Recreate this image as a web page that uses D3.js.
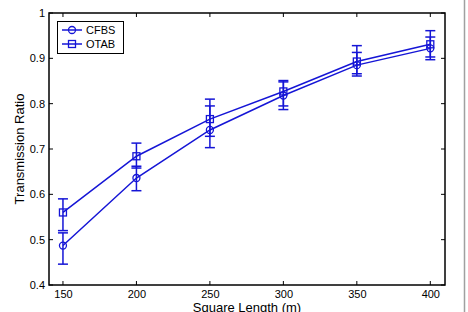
<!DOCTYPE html>
<html>
<head>
<meta charset="utf-8">
<script src="https://cdn.jsdelivr.net/npm/d3@7"></script>
<style>
body { margin: 0; background: #fff; }
svg { display: block; font-family: "Liberation Sans", Arial, sans-serif; }
</style>
</head>
<body>
<div id="chart"></div>
<script>
var squareLength = [150, 200, 250, 300, 350, 400];
var seriesNames = ["CFBS", "OTAB"];
var cfbsMean = [0.487, 0.636, 0.742, 0.818, 0.885, 0.922];
var cfbsLow  = [0.446, 0.608, 0.703, 0.787, 0.861, 0.897];
var cfbsHigh = [0.515, 0.662, 0.795, 0.848, 0.913, 0.947];
var otabMean = [0.560, 0.684, 0.766, 0.827, 0.893, 0.931];
var otabLow  = [0.520, 0.658, 0.728, 0.795, 0.866, 0.903];
var otabHigh = [0.590, 0.713, 0.810, 0.851, 0.928, 0.961];
var xTicks = [150, 200, 250, 300, 350, 400];
var yTicks = [0.4, 0.5, 0.6, 0.7, 0.8, 0.9, 1];

var width = 468, height = 312;
var plotL = 49, plotR = 445, plotT = 13, plotB = 285;
var blue = "#1515d6";

var svg = d3.select("#chart").append("svg")
    .attr("width", width)
    .attr("height", height);

var x = d3.scaleLinear().domain([140.5, 410]).range([plotL, plotR]);
var y = d3.scaleLinear().domain([0.4, 1]).range([plotB, plotT]);

// gray line at the right edge
svg.append("line")
    .attr("x1", 464.5).attr("x2", 464.5)
    .attr("y1", 0).attr("y2", height)
    .attr("stroke", "#a0a0a0").attr("stroke-width", 1.5);

// axes
svg.append("g").attr("transform", "translate(0," + plotB + ")")
    .call(d3.axisBottom(x).tickValues(xTicks).tickSize(0).tickPadding(5));
svg.append("g").attr("transform", "translate(" + plotL + ",0)")
    .call(d3.axisLeft(y).tickValues(yTicks).tickSize(0).tickPadding(4)
        .tickFormat(function(d) { return d === 1 ? "1" : d3.format(".1f")(d); }));
svg.selectAll(".domain").remove();
svg.selectAll(".tick text").attr("font-size", 11).attr("fill", "#000")
    .style("font-family", "Liberation Sans, Arial, sans-serif");

// inner tick marks (bottom and top, left and right)
xTicks.forEach(function(t) {
    svg.append("line").attr("x1", x(t)).attr("x2", x(t)).attr("y1", plotB).attr("y2", plotB - 4)
        .attr("stroke", "#000");
    svg.append("line").attr("x1", x(t)).attr("x2", x(t)).attr("y1", plotT).attr("y2", plotT + 4)
        .attr("stroke", "#000");
});
yTicks.forEach(function(t) {
    svg.append("line").attr("x1", plotL).attr("x2", plotL + 4).attr("y1", y(t)).attr("y2", y(t))
        .attr("stroke", "#000");
    svg.append("line").attr("x1", plotR).attr("x2", plotR - 4).attr("y1", y(t)).attr("y2", y(t))
        .attr("stroke", "#000");
});

// frame
svg.append("rect")
    .attr("x", plotL).attr("y", plotT)
    .attr("width", plotR - plotL).attr("height", plotB - plotT)
    .attr("fill", "none").attr("stroke", "#000").attr("stroke-width", 1.5);

// axis labels
svg.append("text")
    .attr("x", (plotL + plotR) / 2).attr("y", 312)
    .attr("text-anchor", "middle").attr("font-size", 13)
    .text("Square Length (m)");
svg.append("text")
    .attr("transform", "translate(24," + ((plotT + plotB) / 2) + ") rotate(-90)")
    .attr("text-anchor", "middle").attr("font-size", 13)
    .text("Transmission Ratio");

var series = [
    { name: seriesNames[0], mean: cfbsMean, low: cfbsLow, high: cfbsHigh, marker: "circle" },
    { name: seriesNames[1], mean: otabMean, low: otabLow, high: otabHigh, marker: "square" }
];

var line = d3.line()
    .x(function(d) { return x(d[0]); })
    .y(function(d) { return y(d[1]); });

function drawMarker(g, kind, cx, cy) {
    if (kind === "circle") {
        g.append("circle").attr("cx", cx).attr("cy", cy).attr("r", 3.5)
            .attr("fill", "none").attr("stroke", blue).attr("stroke-width", 1.3);
    } else {
        g.append("rect").attr("x", cx - 3.5).attr("y", cy - 3.5)
            .attr("width", 7).attr("height", 7)
            .attr("fill", "none").attr("stroke", blue).attr("stroke-width", 1.3);
    }
}

series.forEach(function(s) {
    var g = svg.append("g");
    var pts = squareLength.map(function(v, i) { return [v, s.mean[i]]; });
    g.append("path").attr("d", line(pts))
        .attr("fill", "none").attr("stroke", blue).attr("stroke-width", 1.5);

    squareLength.forEach(function(v, i) {
        var cx = x(v);
        g.append("line").attr("x1", cx).attr("x2", cx)
            .attr("y1", y(s.low[i])).attr("y2", y(s.high[i]))
            .attr("stroke", blue).attr("stroke-width", 1.5);
        [s.low[i], s.high[i]].forEach(function(e) {
            g.append("line").attr("x1", cx - 5).attr("x2", cx + 5)
                .attr("y1", y(e)).attr("y2", y(e))
                .attr("stroke", blue).attr("stroke-width", 1.5);
        });
        drawMarker(g, s.marker, cx, y(s.mean[i]));
    });
});

// legend
var legend = svg.append("g");
legend.append("rect")
    .attr("x", 57.5).attr("y", 21.5).attr("width", 66).attr("height", 32)
    .attr("fill", "#fff").attr("stroke", "#000").attr("stroke-width", 1);
series.forEach(function(s, i) {
    var ly = 30 + i * 14;
    legend.append("line").attr("x1", 62).attr("x2", 82).attr("y1", ly).attr("y2", ly)
        .attr("stroke", blue).attr("stroke-width", 1.5);
    drawMarker(legend, s.marker, 72, ly);
    legend.append("text").attr("x", 86).attr("y", ly + 4)
        .attr("font-size", 11).text(s.name);
});
</script>
</body>
</html>
